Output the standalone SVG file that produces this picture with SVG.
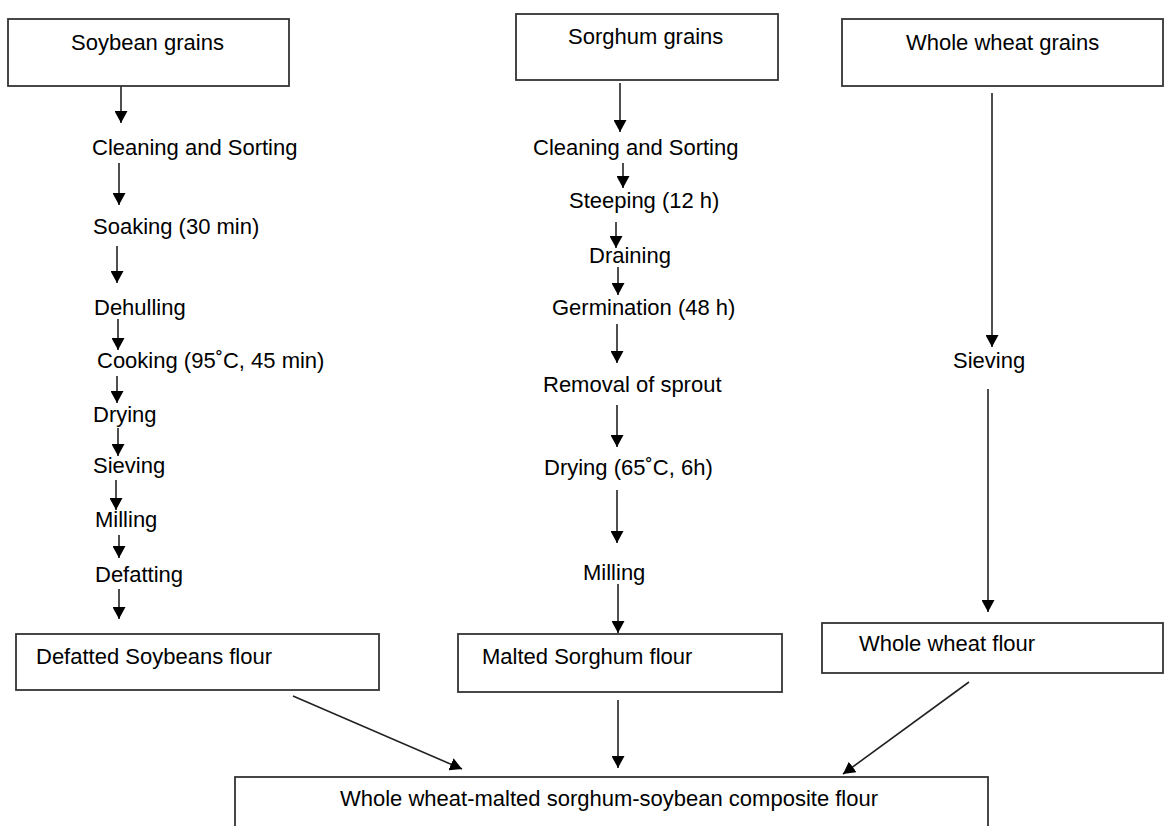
<svg xmlns="http://www.w3.org/2000/svg" width="1165" height="826" viewBox="0 0 1165 826">
<style>
.box{fill:#fff;stroke:#333;stroke-width:1.8}
.t{font-family:"Liberation Sans",Arial,sans-serif;font-size:22px;fill:#000}
.c{stroke:#222;stroke-width:1.6;fill:none;marker-end:url(#ah)}
</style>
<defs>
<marker id="ah" viewBox="0 0 12 13" refX="12" refY="6.5" markerWidth="12" markerHeight="13" markerUnits="userSpaceOnUse" orient="auto">
<path d="M0,0 L12,6.5 L0,13 z" fill="#000"/>
</marker>
</defs>
<rect width="1165" height="826" fill="#fff"/>
<g id="connectors">
<line class="c" x1="121" y1="86" x2="121" y2="123"/>
<line class="c" x1="119" y1="163" x2="119" y2="205"/>
<line class="c" x1="117" y1="246" x2="117" y2="283"/>
<line class="c" x1="118" y1="319" x2="118" y2="350"/>
<line class="c" x1="117" y1="376" x2="117" y2="403"/>
<line class="c" x1="118" y1="428" x2="118" y2="456"/>
<line class="c" x1="116" y1="480" x2="116" y2="510"/>
<line class="c" x1="119" y1="535" x2="119" y2="558"/>
<line class="c" x1="119" y1="589" x2="119" y2="619"/>
<line class="c" x1="620" y1="83" x2="620" y2="132"/>
<line class="c" x1="623" y1="163" x2="623" y2="188"/>
<line class="c" x1="616" y1="222" x2="616" y2="248"/>
<line class="c" x1="618" y1="267" x2="618" y2="295"/>
<line class="c" x1="617" y1="324" x2="617" y2="363"/>
<line class="c" x1="617" y1="405" x2="617" y2="447"/>
<line class="c" x1="617" y1="490" x2="617" y2="543"/>
<line class="c" x1="618" y1="584" x2="618" y2="633"/>
<line class="c" x1="618" y1="700" x2="618" y2="768"/>
<line class="c" x1="992" y1="93" x2="992" y2="347"/>
<line class="c" x1="988" y1="389" x2="988" y2="612"/>
<line class="c" x1="293" y1="696" x2="462" y2="769"/>
<line class="c" x1="969" y1="682" x2="843" y2="774"/>
</g>
<g id="soybean-grains"><rect class="box" x="8" y="19" width="281" height="67"/><text class="t" x="71" y="50">Soybean grains</text></g>
<g id="sorghum-grains"><rect class="box" x="516" y="14" width="262" height="66"/><text class="t" x="568" y="44">Sorghum grains</text></g>
<g id="wheat-grains"><rect class="box" x="842" y="19" width="321" height="67"/><text class="t" x="906" y="50">Whole wheat grains</text></g>
<g id="soy-steps">
<text class="t" x="92" y="155">Cleaning and Sorting</text>
<text class="t" x="93" y="234">Soaking (30 min)</text>
<text class="t" x="94" y="315">Dehulling</text>
<text class="t" x="97" y="368">Cooking (95˚C, 45 min)</text>
<text class="t" x="93" y="422">Drying</text>
<text class="t" x="93" y="473">Sieving</text>
<text class="t" x="95" y="527">Milling</text>
<text class="t" x="95" y="582">Defatting</text>
</g>
<g id="sorghum-steps">
<text class="t" x="533" y="155">Cleaning and Sorting</text>
<text class="t" x="569" y="208">Steeping (12 h)</text>
<text class="t" x="589" y="263">Draining</text>
<text class="t" x="552" y="315">Germination (48 h)</text>
<text class="t" x="543" y="392">Removal of sprout</text>
<text class="t" x="544" y="475">Drying (65˚C, 6h)</text>
<text class="t" x="583" y="580">Milling</text>
</g>
<g id="wheat-steps"><text class="t" x="953" y="368">Sieving</text></g>
<g id="defatted-soy-flour"><rect class="box" x="16" y="634" width="363" height="56"/><text class="t" x="36" y="664">Defatted Soybeans flour</text></g>
<g id="malted-sorghum-flour"><rect class="box" x="458" y="634" width="324" height="58"/><text class="t" x="482" y="664">Malted Sorghum flour</text></g>
<g id="wheat-flour"><rect class="box" x="822" y="623" width="341" height="50"/><text class="t" x="859" y="651">Whole wheat flour</text></g>
<g id="composite-flour"><rect class="box" x="235" y="777" width="753" height="70"/><text class="t" x="340" y="806">Whole wheat-malted sorghum-soybean composite flour</text></g>
</svg>
